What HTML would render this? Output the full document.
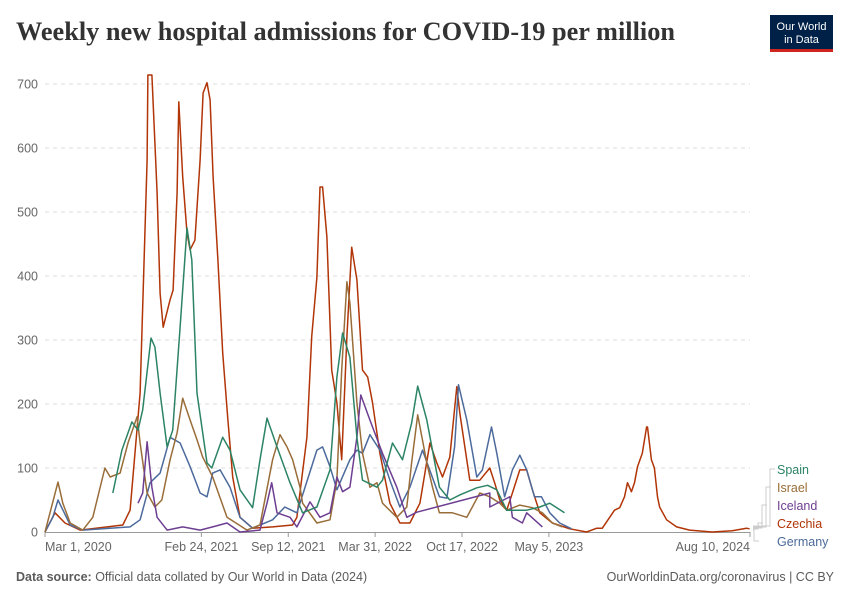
<!DOCTYPE html>
<html><head><meta charset="utf-8">
<style>
html,body{margin:0;padding:0;background:#fff;}
body{width:850px;height:600px;overflow:hidden;font-family:"Liberation Sans",sans-serif;}
</style></head>
<body>
<svg id="chart" width="850" height="600" viewBox="0 0 850 600" xmlns="http://www.w3.org/2000/svg" font-family="Liberation Sans, sans-serif">
  <text x="16" y="40" style="font-family:'Liberation Serif',serif;font-weight:bold;font-size:26px" fill="#333" textLength="659" lengthAdjust="spacingAndGlyphs">Weekly new hospital admissions for COVID-19 per million</text>
  <g>
    <rect x="770" y="15" width="63" height="35" fill="#002147"/>
    <rect x="770" y="49" width="63" height="3" fill="#ce261e"/>
    <text x="801.5" y="30" text-anchor="middle" font-size="11" fill="#fff">Our World</text>
    <text x="801.5" y="43" text-anchor="middle" font-size="11" fill="#fff">in Data</text>
  </g>
  <g id="grid"></g>
  <g id="yaxis"></g>
  <g id="xaxis"></g>
  <g id="series"></g>
  <g id="legend"></g>
  <text x="16" y="581" font-size="12.5" fill="#5b5b5b"><tspan font-weight="bold">Data source:</tspan> Official data collated by Our World in Data (2024)</text>
  <text x="834" y="581" text-anchor="end" font-size="12.5" fill="#5b5b5b">OurWorldinData.org/coronavirus | CC BY</text>
</svg>
<script>
// days since 2020-03-01 and weekly admissions per million
const yTicks = [0,100,200,300,400,500,600,700];
const xTickDays = [0,360,560,760,960,1160,1623];
const xTickLabels = ["Mar 1, 2020","Feb 24, 2021","Sep 12, 2021","Mar 31, 2022","Oct 17, 2022","May 5, 2023","Aug 10, 2024"];

const czechiaDays = [0,23,46,81,179,196,219,235,237,246,258,265,272,288,295,304,308,317,327,334,345,357,364,373,380,387,398,409,421,432,449,478,524,570,580,603,614,626,633,639,649,660,672,683,695,706,718,731,743,754,771,794,817,840,863,886,902,915,932,948,955,978,1001,1024,1035,1047,1063,1076,1093,1109,1122,1139,1168,1208,1247,1270,1283,1300,1311,1323,1334,1341,1350,1357,1364,1375,1385,1387,1396,1403,1410,1415,1431,1454,1484,1536,1582,1615,1622];
const czechiaVals = [0,30,14,3,11,34,217,581,714,714,530,373,320,363,378,530,672,555,467,441,456,581,686,702,675,555,425,280,175,86,23,6,8,11,23,148,305,398,539,539,461,253,202,113,305,445,394,253,242,202,123,45,14,14,45,139,108,86,117,227,186,81,81,100,77,50,34,61,97,97,66,30,14,5,0,6,6,23,34,38,55,77,63,77,102,123,164,164,113,100,55,39,19,8,3,0,2,6,5];

const spainDays = [156,177,200,214,225,244,253,265,281,294,311,327,338,350,373,384,409,426,449,478,495,511,534,564,593,626,656,672,685,702,718,731,764,777,800,823,844,858,879,908,932,955,994,1019,1040,1063,1109,1139,1162,1196];
const spainVals = [61,128,172,159,191,303,289,217,133,159,320,475,425,217,108,100,148,128,66,38,113,178,133,77,30,39,97,242,311,273,148,81,70,81,139,113,170,228,175,70,50,58,69,73,66,34,34,39,45,30];

const israelDays = [0,30,41,58,87,110,138,150,173,191,212,219,235,253,269,288,304,317,334,350,363,386,419,465,495,524,541,557,570,587,593,626,656,672,683,695,702,718,731,748,764,777,810,833,844,858,879,892,908,938,971,1001,1024,1047,1063,1093,1122,1145,1168,1191];
const israelVals = [0,78,45,14,3,23,100,86,92,139,180,139,61,39,50,113,155,209,175,144,117,86,23,3,11,113,152,133,113,70,45,14,19,81,253,391,358,202,123,70,77,45,23,39,108,183,108,70,30,30,23,61,55,45,34,42,38,30,14,8];

const icelandDays = [214,225,235,246,258,281,317,357,386,419,449,495,511,522,534,564,580,610,633,656,672,685,702,718,727,748,777,810,833,856,1024,1024,1070,1076,1099,1109,1145];
const icelandVals = [45,61,141,70,23,3,8,3,8,14,0,3,45,77,30,23,8,47,23,30,86,63,70,148,214,175,123,70,23,31,61,39,55,23,14,30,8];

const germanyDays = [0,18,30,58,87,196,219,242,265,288,311,334,357,373,386,403,426,449,478,524,552,580,626,639,656,672,702,718,731,748,771,794,817,840,869,908,925,943,952,971,994,1007,1028,1040,1058,1076,1093,1109,1127,1143,1162,1185,1212];
const germanyVals = [0,23,50,11,3,8,19,77,92,148,139,102,61,55,92,97,70,23,6,19,39,30,128,133,102,66,113,128,123,152,128,81,39,70,128,55,53,133,230,175,86,97,164,123,55,97,120,97,55,55,30,14,5];

const seriesNames = ["Spain","Israel","Iceland","Czechia","Germany"];
const seriesColors = ["#2c8465","#996d39","#6d3e91","#b13507","#4c6a9c"];
const seriesDays = [spainDays,israelDays,icelandDays,czechiaDays,germanyDays];
const seriesVals = [spainVals,israelVals,icelandVals,czechiaVals,germanyVals];

const NS = "http://www.w3.org/2000/svg";
const X0 = 45, X1 = 750, Y0 = 532, Y1 = 84;
const xScale = d => X0 + d / 1623 * (X1 - X0);
const yScale = v => Y0 - v / 700 * (Y0 - Y1);
function mk(tag, attrs, parent){
  const e = document.createElementNS(NS, tag);
  for (const k in attrs) e.setAttribute(k, attrs[k]);
  parent.appendChild(e);
  return e;
}
const grid = document.getElementById('grid');
const yaxis = document.getElementById('yaxis');
yTicks.forEach(t => {
  if (t > 0) {
    const l = mk('line', {x1:X0, x2:X1, y1:yScale(t), y2:yScale(t), stroke:'#ddd', 'stroke-dasharray':'4,4'}, grid);
    
    
  }
  const tx = mk('text', {x:38, y:yScale(t)+4.5, 'text-anchor':'end', 'font-size':'12.5', fill:'#666'}, yaxis);
  tx.textContent = t;
  
  
});
const xaxis = document.getElementById('xaxis');
const base = mk('line', {x1:X0, x2:X1, y1:Y0+0.5, y2:Y0+0.5, stroke:'#999'}, xaxis);


xTickDays.forEach((d, i) => {
  const x = xScale(d);
  const tk = mk('line', {x1:x, x2:x, y1:Y0, y2:Y0+5, stroke:'#999'}, xaxis);
  
  
  const anchor = i === 0 ? 'start' : (i === xTickDays.length-1 ? 'end' : 'middle');
  const tx = mk('text', {x:x, y:551, 'text-anchor':anchor, 'font-size':'12.5', fill:'#666'}, xaxis);
  tx.textContent = xTickLabels[i];
  
  
});
const sg = document.getElementById('series');
const order = [3,4,1,2,0];
order.forEach(i => {
  const pts = seriesDays[i].map((d, j) => xScale(d).toFixed(1) + ',' + yScale(seriesVals[i][j]).toFixed(1)).join(' ');
  const pl = mk('polyline', {points:pts, fill:'none', stroke:seriesColors[i], 'stroke-width':'1.5', 'stroke-linejoin':'round'}, sg);
  
  
});
const lg = document.getElementById('legend');
const labelY = [473,491,509,527,545];
const elbowX = [770,766,762,758,754];
seriesNames.forEach((n, i) => {
  const ex = elbowX[i];
  const ly = labelY[i] - 4;
  const endY = 526 + i;
  const c = mk('polyline', {points:`753,${endY} ${ex},${endY} ${ex},${ly} ${ex+5},${ly}`, fill:'none', stroke:'#ccc', 'stroke-width':'1'}, lg);
  
  
  const t = mk('text', {x:777, y:labelY[i]+1, 'font-size':'12.5', fill:seriesColors[i]}, lg);
  t.textContent = n;
  
  
});
</script>
</body></html>
